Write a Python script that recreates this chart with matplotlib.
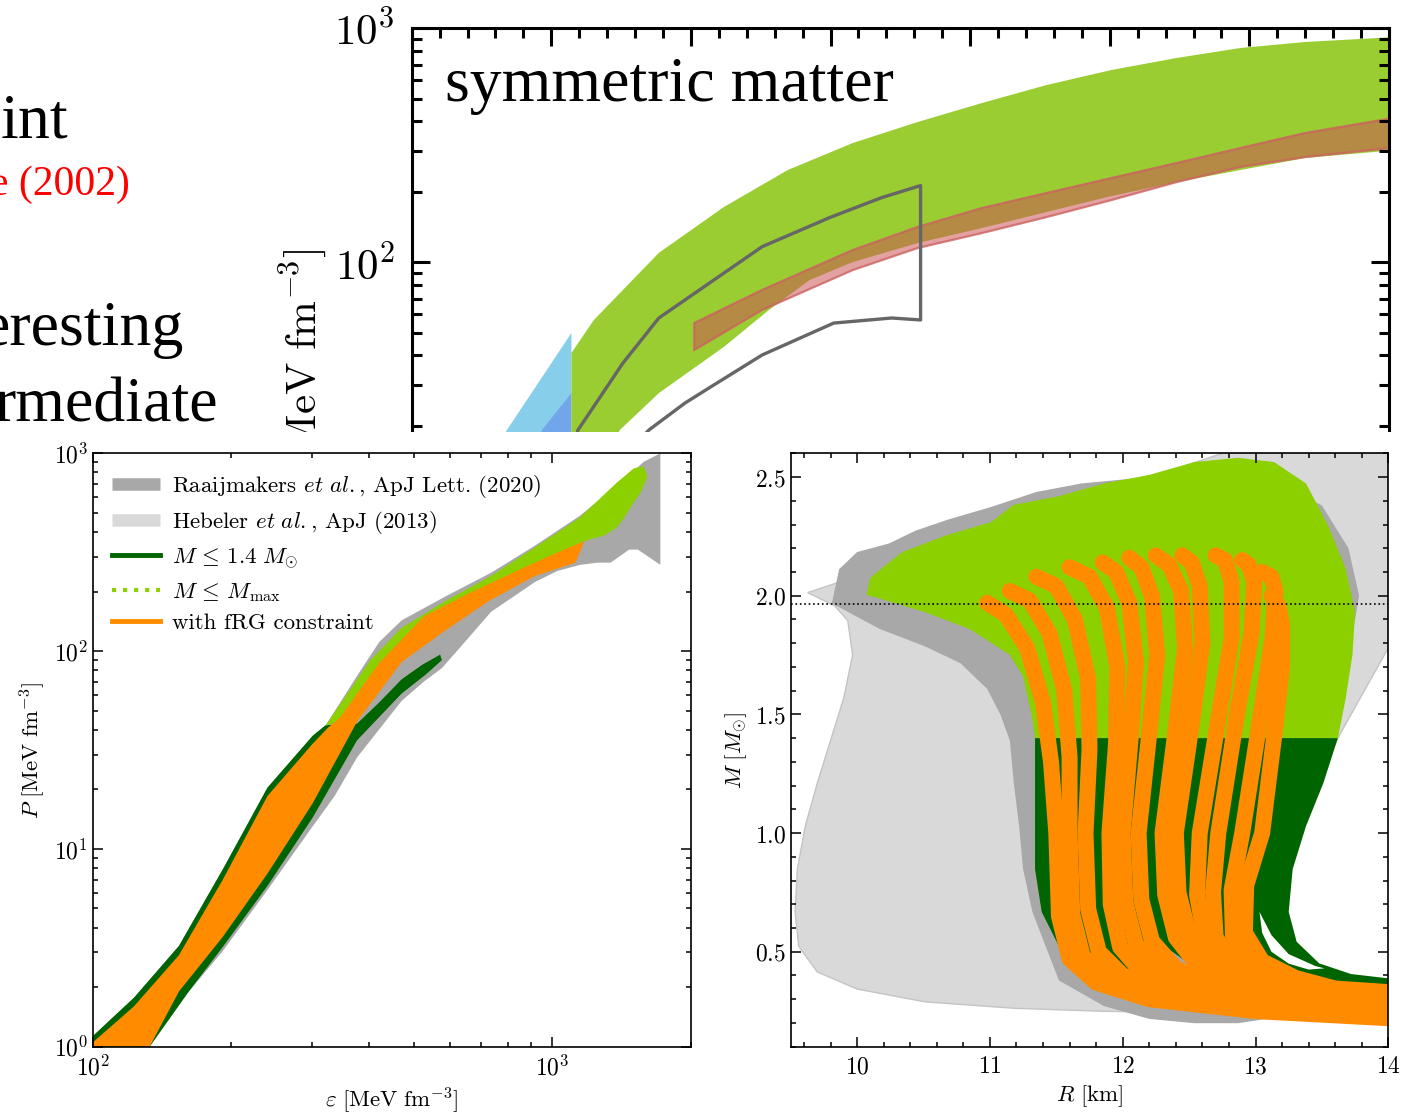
import matplotlib
matplotlib.use('Agg')
import matplotlib.pyplot as plt
from matplotlib.patches import Rectangle
from matplotlib.lines import Line2D
from matplotlib.ticker import MultipleLocator, FuncFormatter, NullFormatter
import numpy as np

plt.rcParams['mathtext.fontset'] = 'cm'
plt.rcParams['font.family'] = 'DejaVu Serif'

# ---------------- top panel (symmetric matter, partly hidden) ----------------
sym_green_up_x = [0.1144, 0.1305, 0.177, 0.2236, 0.2694, 0.316, 0.3624, 0.4086, 0.4548, 0.5013, 0.548, 0.5936, 0.640, 0.7053]
sym_green_up_p = [41.0, 56.7, 109.7, 172.3, 248.0, 323.5, 397.7, 479.6, 572.3, 663.5, 746.9, 823.8, 873.9, 918.1]
sym_green_lo_x = [0.1144, 0.135, 0.1491, 0.177, 0.2236, 0.2558, 0.285, 0.316, 0.3624, 0.4086, 0.4548, 0.5013, 0.548, 0.5936, 0.640, 0.7053]
sym_green_lo_p = [13.0, 13.0, 19.2, 27.6, 43.5, 62.5, 84.0, 100.3, 120.9, 140.2, 164.1, 192.0, 220.3, 248.0, 279.1, 301.9]

sym_red_up_x = [0.2024, 0.2508, 0.316, 0.3624, 0.4086, 0.4548, 0.5013, 0.548, 0.5936, 0.640, 0.7075]
sym_red_up_p = [55.0, 76.1, 112.9, 141.6, 170.7, 197.8, 229.2, 265.7, 307.9, 356.9, 417.8]
sym_red_lo_p = [42.2, 62.5, 92.7, 115.1, 133.4, 156.1, 184.6, 220.3, 255.5, 281.8, 311.0]

flow_x = [0.1140, 0.1191, 0.1513, 0.1770, 0.2511, 0.2994, 0.3366, 0.3645, 0.3645,
          0.3438, 0.3023, 0.2511, 0.2140, 0.1956, 0.1699, 0.1563]
flow_p = [15.0, 19.2, 37.1, 57.8, 116.7, 155.3, 189.0, 212.7, 56.7,
          57.8, 55.0, 40.2, 29.3, 25.0, 19.2, 15.8]

chiral_outer_x = [0.1144, 0.0682, 0.0560, 0.1144]
chiral_outer_p = [49.9, 19.2, 14.3, 14.3]
chiral_inner_x = [0.1144, 0.0933, 0.0861, 0.1144]
chiral_inner_p = [27.6, 19.2, 14.3, 14.3]

# ---------------- bottom left: P(eps) ----------------
raai_eps = [133, 161, 192, 240, 301, 336, 376, 470, 525, 575, 620, 736, 918, 1025, 1150, 1255, 1339, 1470, 1535, 1718,
            1718, 1580, 1437, 1150, 918, 736, 588, 470, 420, 376, 321, 301, 240, 192, 154, 123, 100, 100]
raai_p = [1.0, 1.87, 3.05, 6.2, 13.0, 18.5, 29.0, 56, 70, 82, 100, 158, 224, 254, 273, 280, 280, 326, 326, 273,
          1000, 905, 741, 485, 342, 249, 190, 143, 111, 75, 42, 37.3, 20.4, 7.9, 3.23, 1.77, 1.13, 1.0]

dg_eps = [133, 161, 192, 240, 301, 376, 470, 530, 575, 570, 520, 470, 420, 376, 321, 301, 240, 192, 154, 123, 100, 100]
dg_p = [1.0, 1.87, 3.2, 6.5, 14.4, 35.4, 61, 76, 90, 96, 85, 72, 55, 43, 42.2, 37.3, 20.4, 7.9, 3.23, 1.77, 1.13, 1.0]

lg_eps = [321, 360, 402, 470, 588, 736, 918, 1150, 1376, 1505, 1580, 1610, 1560, 1500, 1440, 1380, 1300, 1175,
          1025, 823, 656, 526, 420, 345, 321]
lg_p = [42, 62, 90, 131, 180, 240, 335, 475, 705, 840, 860, 760, 640, 560, 480, 420, 385, 360,
        300, 240, 185, 140, 80, 44, 42]

frg_eps = [100, 123, 154, 192, 240, 301, 325, 345, 420, 526, 656, 823, 1025, 1175,
           1123, 918, 730, 588, 470, 376, 301, 240, 192, 154, 133, 100]
frg_p = [1.05, 1.6, 2.9, 7.0, 18.5, 34, 41, 46, 87, 150, 195, 250, 315, 360,
         280, 240, 180, 128, 88, 44, 17, 7.5, 3.6, 1.9, 1.0, 1.0]

# ---------------- bottom right: M(R) ----------------
heb_r = [9.628, 9.83, 9.93, 9.966, 9.90, 9.80, 9.70, 9.61, 9.55, 9.533, 9.56, 9.70, 10.0, 10.51, 11.18, 11.86,
         12.54, 13.21, 14.0, 14.0, 13.3, 13.1, 12.95, 13.3, 13.62, 14.0, 14.0, 12.75]
heb_m = [2.013, 1.958, 1.895, 1.75, 1.57, 1.39, 1.21, 1.03, 0.848, 0.668, 0.523, 0.415, 0.343, 0.289, 0.262, 0.249,
         0.244, 0.226, 0.208, 0.30, 0.33, 0.42, 0.60, 1.0, 1.4, 1.78, 2.6, 2.6]

raai_r = [9.81, 9.865, 10.0, 10.24, 10.44, 10.68, 11.01, 11.35, 11.69, 12.2, 12.87, 13.2, 13.5, 13.7, 13.78, 13.72,
          13.55, 13.3, 12.95, 13.15, 13.08, 12.87, 12.54, 12.2, 11.86, 11.52, 11.42, 11.32, 11.25, 11.22, 11.18,
          11.15, 11.08, 10.98, 10.78, 10.51, 10.17]
raai_m = [1.968, 2.112, 2.184, 2.22, 2.274, 2.32, 2.374, 2.437, 2.473, 2.5, 2.55, 2.47, 2.38, 2.2, 2.0, 1.8,
          1.4, 1.0, 0.6, 0.35, 0.217, 0.199, 0.199, 0.217, 0.271, 0.379, 0.523, 0.668, 0.848, 1.029, 1.21,
          1.39, 1.498, 1.607, 1.715, 1.787, 1.86]

mmax_r = [10.07, 10.10, 10.34, 10.68, 11.01, 11.18, 11.52, 11.86, 12.2, 12.54, 12.87, 13.14, 13.38, 13.55, 13.68,
          13.75, 13.73, 13.68, 13.62, 11.34, 11.32, 11.25, 11.15, 10.85, 10.51, 10.24]
mmax_m = [2.004, 2.076, 2.184, 2.256, 2.31, 2.383, 2.419, 2.473, 2.509, 2.563, 2.581, 2.563, 2.473, 2.292, 2.112,
          1.932, 1.751, 1.57, 1.40, 1.40, 1.48, 1.66, 1.751, 1.859, 1.931, 1.977]

m14_r = [11.34, 11.34, 11.39, 11.52, 11.72, 12.03, 12.37, 12.87, 13.38, 14.0, 14.0, 13.72, 13.48, 13.31, 13.25,
         13.28, 13.38, 13.51, 13.62]
m14_m = [1.40, 0.848, 0.668, 0.523, 0.415, 0.343, 0.307, 0.271, 0.235, 0.208, 0.388, 0.406, 0.451, 0.542, 0.668,
         0.848, 1.029, 1.209, 1.40]

hole_r = [13.03, 13.12, 13.25, 13.45, 13.52, 13.4, 13.25, 13.12, 13.05]
hole_m = [0.668, 0.57, 0.49, 0.44, 0.43, 0.425, 0.45, 0.50, 0.58]

wedge_r = [12.27, 12.54, 12.87, 13.21, 13.21, 12.87, 12.54]
wedge_m = [0.542, 0.433, 0.361, 0.316, 0.289, 0.307, 0.379]

# individual mass-radius curves passing the fRG constraint
frg_curves = [
    ([14.0, 13.0, 12.2, 11.8, 11.6, 11.52, 11.50, 11.46, 11.40, 11.28, 11.12, 10.98],
     [0.220, 0.250, 0.300, 0.370, 0.470, 0.650, 1.000, 1.300, 1.550, 1.780, 1.920, 1.970]),
    ([14.0, 13.0, 12.3, 11.9, 11.7, 11.62, 11.60, 11.60, 11.56, 11.45, 11.30, 11.15],
     [0.228, 0.258, 0.310, 0.380, 0.480, 0.660, 1.000, 1.320, 1.600, 1.840, 1.980, 2.020]),
    ([14.0, 13.1, 12.4, 12.0, 11.82, 11.74, 11.72, 11.75, 11.74, 11.64, 11.50, 11.35],
     [0.235, 0.265, 0.320, 0.400, 0.500, 0.680, 1.000, 1.350, 1.650, 1.900, 2.040, 2.080]),
    ([14.0, 13.1, 12.5, 12.15, 11.98, 11.91, 11.90, 11.95, 11.96, 11.88, 11.75, 11.60],
     [0.245, 0.275, 0.330, 0.410, 0.520, 0.700, 1.000, 1.380, 1.700, 1.950, 2.080, 2.120]),
    ([14.0, 13.2, 12.6, 12.28, 12.10, 12.02, 12.00, 12.06, 12.10, 12.05, 11.95, 11.85],
     [0.255, 0.285, 0.340, 0.420, 0.530, 0.710, 1.000, 1.400, 1.720, 1.970, 2.100, 2.140]),
    ([14.0, 13.2, 12.7, 12.4, 12.22, 12.14, 12.12, 12.20, 12.26, 12.22, 12.14, 12.05],
     [0.265, 0.295, 0.350, 0.430, 0.545, 0.720, 1.000, 1.420, 1.750, 2.000, 2.120, 2.160]),
    ([14.0, 13.3, 12.85, 12.56, 12.40, 12.32, 12.30, 12.40, 12.47, 12.44, 12.35, 12.25],
     [0.275, 0.305, 0.360, 0.445, 0.560, 0.740, 1.000, 1.440, 1.780, 2.020, 2.130, 2.170]),
    ([14.0, 13.35, 12.95, 12.66, 12.50, 12.42, 12.40, 12.52, 12.60, 12.58, 12.52, 12.45],
     [0.285, 0.315, 0.370, 0.455, 0.570, 0.750, 1.000, 1.460, 1.800, 2.040, 2.140, 2.170]),
    ([14.0, 13.4, 13.0, 12.78, 12.62, 12.56, 12.58, 12.72, 12.82, 12.82, 12.77, 12.70],
     [0.295, 0.320, 0.365, 0.435, 0.550, 0.740, 1.000, 1.480, 1.820, 2.060, 2.150, 2.170]),
    ([14.0, 13.5, 13.1, 12.85, 12.70, 12.68, 12.72, 12.86, 12.97, 12.99, 12.95, 12.90],
     [0.300, 0.325, 0.370, 0.440, 0.560, 0.750, 1.000, 1.500, 1.840, 2.060, 2.130, 2.150]),
    ([14.0, 13.55, 13.2, 12.98, 12.83, 12.82, 12.90, 13.04, 13.13, 13.15, 13.12, 13.05],
     [0.315, 0.335, 0.380, 0.450, 0.570, 0.760, 1.000, 1.500, 1.830, 2.020, 2.080, 2.100]),
    ([14.0, 13.6, 13.3, 13.05, 12.92, 12.93, 13.05, 13.15, 13.20, 13.20, 13.17, 13.12],
     [0.330, 0.345, 0.390, 0.460, 0.580, 0.780, 1.000, 1.450, 1.700, 1.880, 1.960, 2.000]),
]

m_obs = 1.964

legend_labels = [r'Raaijmakers $et\ al.$, ApJ Lett. (2020)',
                 r'Hebeler $et\ al.$, ApJ (2013)',
                 r'$M\,\leq\,1.4\ M_{\odot}$',
                 r'$M\,\leq\,M_{\max}$',
                 'with fRG constraint']

# colours
c_raai = '#a8a8a8'
c_heb = '#d9d9d9'
c_lgreen = '#8cd000'
c_dgreen = '#006400'
c_orange = '#ff8c00'

W, H = 1403, 1113
fig = plt.figure(figsize=(W / 100, H / 100), dpi=100)


def px_rect(x0, y0, x1, y1):
    # pixel box (top-left origin) -> figure fraction rect
    return [x0 / W, 1 - y1 / H, (x1 - x0) / W, (y1 - y0) / H]


log_fmt = FuncFormatter(lambda v, pos: r'$10^{%d}$' % int(round(np.log10(v))))
# the top figure only shows its upper two decades, the rest lies under the slide
top_fmt = FuncFormatter(lambda v, pos: r'$10^{%d}$' % int(round(np.log10(v))) if v >= 100 else '')

# ---- top axes ----
ax_t = fig.add_axes(px_rect(411.7, 28.3, 1389, 730.3))
ax_t.set_zorder(0)
ax_t.fill(chiral_outer_x, chiral_outer_p, color='#87ceeb', lw=0)
ax_t.fill(chiral_inner_x, chiral_inner_p, color='#72a6ea', lw=0)
ax_t.fill(sym_green_up_x + sym_green_lo_x[::-1], sym_green_up_p + sym_green_lo_p[::-1],
          color='#9acd32', lw=0)
ax_t.fill(sym_red_up_x + sym_red_up_x[::-1], sym_red_up_p + sym_red_lo_p[::-1],
          facecolor=(0.80, 0.33, 0.33, 0.55), edgecolor=(0.80, 0.38, 0.38, 0.8), lw=1.6)
ax_t.plot(flow_x, flow_p, color='#666666', lw=2.4)
ax_t.set_yscale('log')
ax_t.set_xlim(0, 0.7)
ax_t.set_ylim(1, 1000)
ax_t.xaxis.set_major_locator(MultipleLocator(0.1))
ax_t.xaxis.set_minor_locator(MultipleLocator(0.02))
ax_t.yaxis.set_major_formatter(top_fmt)
ax_t.yaxis.set_minor_formatter(NullFormatter())
ax_t.tick_params(which='both', direction='in', top=True, bottom=False, right=True,
                 labelbottom=False, width=2.2, labelsize=31, pad=12)
ax_t.tick_params(which='major', length=13)
ax_t.tick_params(which='minor', length=7.5)
for s in ax_t.spines.values():
    s.set_linewidth(2.2)
# only the unit part of the label shows above the slide's lower half
ax_t.set_ylabel(r'$[\mathrm{MeV\ fm}^{-3}]$', fontsize=31)
ax_t.yaxis.set_label_coords(-0.085, 0.532)
ax_t.text(0.034, 0.897, 'symmetric matter', transform=ax_t.transAxes, fontsize=46,
          family='Liberation Serif', ha='left', va='baseline')

# white area of the slide covering the lower part of the top figure
fig.add_artist(Rectangle((0, 0), 1, (H - 432) / H, transform=fig.transFigure,
                         facecolor='white', edgecolor='none', zorder=1))

# cut-off slide text on the left
slide_font = 'Liberation Serif'
fig.text(68 / W, 1 - 138 / H, 'int', fontsize=46, family=slide_font, ha='right', va='baseline', zorder=3)
fig.text(130 / W, 1 - 195 / H, 'e (2002)', fontsize=30, family=slide_font, color='red',
         ha='right', va='baseline', zorder=3)
fig.text(184 / W, 1 - 345 / H, 'eresting', fontsize=46, family=slide_font, ha='right', va='baseline', zorder=3)
fig.text(218 / W, 1 - 422 / H, 'rmediate', fontsize=46, family=slide_font, ha='right', va='baseline', zorder=3)

# ---- bottom left: equation of state ----
ax_l = fig.add_axes(px_rect(92.7, 453.3, 690.7, 1046.7))
ax_l.set_zorder(2)
ax_l.fill(raai_eps, raai_p, color=c_raai, lw=0)
ax_l.fill(dg_eps, dg_p, color=c_dgreen, lw=0)
ax_l.fill(lg_eps, lg_p, color=c_lgreen, lw=0)
ax_l.fill(frg_eps, frg_p, color=c_orange, lw=0)
ax_l.set_xscale('log')
ax_l.set_yscale('log')
ax_l.set_xlim(100, 2000)
ax_l.set_ylim(1, 1000)
ax_l.xaxis.set_major_formatter(log_fmt)
ax_l.yaxis.set_major_formatter(log_fmt)
ax_l.xaxis.set_minor_formatter(NullFormatter())
ax_l.yaxis.set_minor_formatter(NullFormatter())
ax_l.set_xlabel(r'$\varepsilon\ [\mathrm{MeV\ fm}^{-3}]$', fontsize=16.5)
ax_l.set_ylabel(r'$P\ [\mathrm{MeV\ fm}^{-3}]$', fontsize=16.5)

handles = [Line2D([], [], color=c_raai, lw=9, solid_capstyle='butt'),
           Line2D([], [], color=c_heb, lw=9, solid_capstyle='butt'),
           Line2D([], [], color=c_dgreen, lw=3.5),
           Line2D([], [], color=c_lgreen, lw=3, ls=':'),
           Line2D([], [], color=c_orange, lw=3.5)]
ax_l.legend(handles, legend_labels, loc='upper left', frameon=False,
            prop={'family': 'cmr10', 'size': 16.5},
            handlelength=2.1, handletextpad=0.5, labelspacing=0.42,
            borderaxespad=0.3, borderpad=0.55)

# ---- bottom right: mass-radius ----
ax_r = fig.add_axes(px_rect(790.7, 453.3, 1388.3, 1046.7))
ax_r.set_zorder(2)
ax_r.fill(heb_r, heb_m, facecolor=c_heb, edgecolor='#c4c4c4', lw=1)
ax_r.fill(raai_r, raai_m, color=c_raai, lw=0)
ax_r.fill(mmax_r, mmax_m, color=c_lgreen, lw=0)
ax_r.fill(m14_r, m14_m, color=c_dgreen, lw=0)
ax_r.fill(hole_r, hole_m, color='white', lw=0)
ax_r.fill(wedge_r, wedge_m, color=c_raai, lw=0)
for r, m in frg_curves:
    ax_r.plot(r, m, color=c_orange, lw=11.5, solid_capstyle='round', solid_joinstyle='round')
ax_r.axhline(m_obs, color='black', ls=':', lw=1.2)
ax_r.set_xlim(9.5, 14)
ax_r.set_ylim(0.1, 2.6)
ax_r.xaxis.set_major_locator(MultipleLocator(1))
ax_r.xaxis.set_minor_locator(MultipleLocator(0.2))
ax_r.yaxis.set_major_locator(MultipleLocator(0.5))
ax_r.yaxis.set_minor_locator(MultipleLocator(0.1))
ax_r.xaxis.set_major_formatter(FuncFormatter(lambda v, pos: r'$%d$' % round(v)))
ax_r.yaxis.set_major_formatter(FuncFormatter(lambda v, pos: r'$%.1f$' % v))
ax_r.set_xlabel(r'$R\ [\mathrm{km}]$', fontsize=16.5)
ax_r.set_ylabel(r'$M\ [M_{\odot}]$', fontsize=16.5)

for ax in (ax_l, ax_r):
    ax.tick_params(which='both', direction='in', top=True, right=True, width=1.1, labelsize=17)
    ax.tick_params(which='major', length=7)
    ax.tick_params(which='minor', length=3.5)
    ax.tick_params(axis='x', pad=6)
    for s in ax.spines.values():
        s.set_linewidth(1.2)

fig.savefig('out.png', dpi=100)
